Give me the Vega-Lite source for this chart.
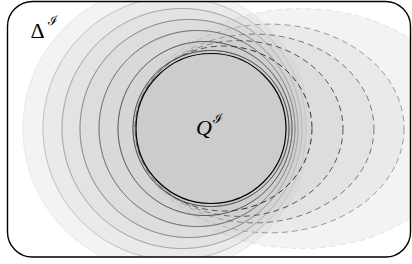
{
  "$schema": "https://vega.github.io/schema/vega-lite/v6.json",
  "width": 403,
  "height": 256,
  "autosize": "none",
  "padding": {"left": 7, "top": 1, "right": 2, "bottom": 7},
  "background": "white",
  "config": {"view": {"stroke": null}},
  "datasets": {
    "rings": [
      {"id": "d5", "family": "dashed", "cx": 301, "cy": 128.5, "r": 165},
      {"id": "s6", "family": "solid", "cx": 166.5, "cy": 128.5, "r": 143.5},
      {"id": "d4", "family": "dashed", "cx": 269.5, "cy": 128.5, "r": 134.5},
      {"id": "s5", "family": "solid", "cx": 174.5, "cy": 128.5, "r": 131.5},
      {"id": "s4", "family": "solid", "cx": 182, "cy": 128.5, "r": 120},
      {"id": "d3", "family": "dashed", "cx": 254.5, "cy": 128.5, "r": 119.5},
      {"id": "s3", "family": "solid", "cx": 189, "cy": 128.5, "r": 109},
      {"id": "d2", "family": "dashed", "cx": 239, "cy": 128.5, "r": 104},
      {"id": "s2", "family": "solid", "cx": 197, "cy": 128.5, "r": 98},
      {"id": "d1", "family": "dashed", "cx": 223.5, "cy": 128.5, "r": 88.5},
      {"id": "s1", "family": "solid", "cx": 205, "cy": 128.5, "r": 87},
      {"id": "s0", "family": "solid", "cx": 211, "cy": 128.5, "r": 78}
    ],
    "core": [
      {"id": "Q", "cx": 211, "cy": 128.5, "r": 75}
    ],
    "frame": [
      {"x0": 7.5, "x1": 410.5, "y0": 1.5, "y1": 257}
    ],
    "labels": [
      {"text": "Δ", "x": 37.5, "y": 38, "kind": "upright"},
      {"text": "ℐ", "x": 53, "y": 25, "kind": "sup"},
      {"text": "Q", "x": 204, "y": 135, "kind": "italic"},
      {"text": "ℐ", "x": 218, "y": 123, "kind": "sup"}
    ]
  },
  "layer": [
    {
      "data": {"name": "rings"},
      "mark": {"type": "point", "fill": "#cccccc", "fillOpacity": 0.24, "strokeWidth": 1, "clip": true},
      "encoding": {
        "x": {"field": "cx", "type": "quantitative", "scale": {"domain": [7, 410], "nice": false, "zero": false}, "axis": null},
        "y": {"field": "cy", "type": "quantitative", "scale": {"domain": [1, 257], "nice": false, "zero": false, "reverse": true}, "axis": null},
        "size": {"field": "r", "type": "quantitative", "scale": {"type": "pow", "exponent": 2, "domain": [0, 100], "range": [0, 40000], "zero": true}, "legend": null},
        "shape": {"field": "id", "type": "nominal", "scale": {"domain": ["s0", "s1", "s2", "s3", "s4", "s5", "s6", "d1", "d2", "d3", "d4", "d5"], "range": ["circle", "circle", "circle", "circle", "circle", "circle", "circle",
          "M 1 0 C 1 0.5147 0.5523 0.932 0 0.932 C -0.5523 0.932 -1 0.5147 -1 0 C -1 -0.5147 -0.5523 -0.932 0 -0.932 C 0.5523 -0.932 1 -0.5147 1 0 Z",
          "M 1 0 C 1 0.4667 0.5523 0.845 0 0.845 C -0.5523 0.845 -1 0.4667 -1 0 C -1 -0.4667 -0.5523 -0.845 0 -0.845 C 0.5523 -0.845 1 -0.4667 1 0 Z",
          "M 1 0 C 1 0.4363 0.5523 0.79 0 0.79 C -0.5523 0.79 -1 0.4363 -1 0 C -1 -0.4363 -0.5523 -0.79 0 -0.79 C 0.5523 -0.79 1 -0.4363 1 0 Z",
          "M 1 0 C 1 0.4286 0.5523 0.776 0 0.776 C -0.5523 0.776 -1 0.4286 -1 0 C -1 -0.4286 -0.5523 -0.776 0 -0.776 C 0.5523 -0.776 1 -0.4286 1 0 Z",
          "M 1 0 C 1 0.4015 0.5523 0.727 0 0.727 C -0.5523 0.727 -1 0.4015 -1 0 C -1 -0.4015 -0.5523 -0.727 0 -0.727 C 0.5523 -0.727 1 -0.4015 1 0 Z"]}, "legend": null},
        "stroke": {"field": "id", "type": "nominal", "scale": {"domain": ["s0", "s1", "s2", "s3", "s4", "s5", "s6", "d1", "d2", "d3", "d4", "d5"], "range": ["#262626", "#3a3a3a", "#555555", "#737373", "#959595", "#b8b8b8", "#e6e6e6", "#333333", "#555555", "#787878", "#9a9a9a", "#e4e4e4"]}, "legend": null},
        "strokeDash": {"field": "family", "type": "nominal", "scale": {"domain": ["solid", "dashed"], "range": [[1, 0], [6, 4]]}, "legend": null},
        "order": {"field": "r", "sort": "descending"}
      }
    },
    {
      "data": {"name": "core"},
      "mark": {"type": "point", "shape": "circle", "fill": "#cccccc", "fillOpacity": 1, "stroke": "#000000", "strokeWidth": 1.2, "clip": true},
      "encoding": {
        "x": {"field": "cx", "type": "quantitative", "axis": null},
        "y": {"field": "cy", "type": "quantitative", "axis": null},
        "size": {"field": "r", "type": "quantitative", "legend": null}
      }
    },
    {
      "data": {"name": "frame"},
      "mark": {"type": "rect", "fill": null, "fillOpacity": 0, "stroke": "#000000", "strokeWidth": 1.4, "cornerRadius": 25},
      "encoding": {
        "x": {"field": "x0", "type": "quantitative", "axis": null},
        "x2": {"field": "x1"},
        "y": {"field": "y0", "type": "quantitative", "axis": null},
        "y2": {"field": "y1"}
      }
    },
    {
      "data": {"name": "labels"},
      "transform": [{"filter": "datum.kind === 'upright'"}],
      "mark": {"type": "text", "font": "Liberation Serif", "fontSize": 22, "align": "center", "baseline": "alphabetic", "color": "#000"},
      "encoding": {
        "x": {"field": "x", "type": "quantitative", "axis": null},
        "y": {"field": "y", "type": "quantitative", "axis": null},
        "text": {"field": "text"}
      }
    },
    {
      "data": {"name": "labels"},
      "transform": [{"filter": "datum.kind === 'italic'"}],
      "mark": {"type": "text", "font": "Liberation Serif", "fontSize": 22, "fontStyle": "italic", "align": "center", "baseline": "alphabetic", "color": "#000"},
      "encoding": {
        "x": {"field": "x", "type": "quantitative", "axis": null},
        "y": {"field": "y", "type": "quantitative", "axis": null},
        "text": {"field": "text"}
      }
    },
    {
      "data": {"name": "labels"},
      "transform": [{"filter": "datum.kind === 'sup'"}],
      "mark": {"type": "text", "font": "DejaVu Serif", "fontSize": 13, "align": "center", "baseline": "alphabetic", "color": "#000"},
      "encoding": {
        "x": {"field": "x", "type": "quantitative", "axis": null},
        "y": {"field": "y", "type": "quantitative", "axis": null},
        "text": {"field": "text"}
      }
    }
  ]
}
